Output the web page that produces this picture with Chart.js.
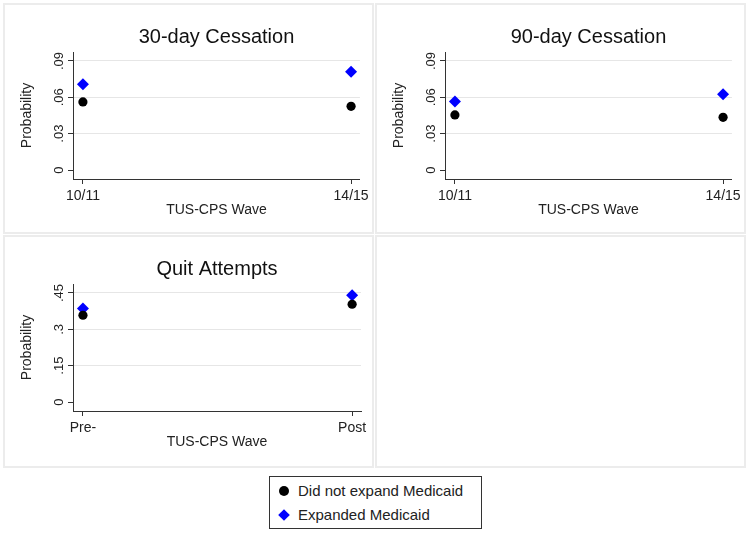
<!DOCTYPE html>
<html><head><meta charset="utf-8">
<script src="https://cdn.jsdelivr.net/npm/chart.js@4"></script>
<style>
body{margin:0;background:#fff;width:750px;height:533px;position:relative;overflow:hidden;font-family:Arial,"Liberation Sans",sans-serif;}
.panel{position:absolute;box-sizing:border-box;border:2px solid #ececec;pointer-events:none;}
.cw{position:absolute;width:369px;height:229px;}
#legend{position:absolute;left:269px;top:476px;width:213px;height:53px;box-sizing:border-box;border:1px solid #333;background:#fff;}
.li{position:absolute;left:0;height:20px;line-height:20px;font-size:15px;color:#222;white-space:nowrap;}
.li span.t{position:absolute;left:28px;top:0;}
.mk{position:absolute;left:9px;top:5px;width:10px;height:10px;}
.mk.c{background:#000;border-radius:50%;}
.mk.d{background:#0000ff;transform:rotate(45deg) scale(0.82);}
</style>
</head><body>
<div class="cw" style="left:4px;top:4px"><canvas id="c1"></canvas></div>
<div class="cw" style="left:376px;top:4px"><canvas id="c2"></canvas></div>
<div class="cw" style="left:4px;top:236px"><canvas id="c3"></canvas></div>
<div class="panel" style="left:3px;top:3px;width:371px;height:231px"></div>
<div class="panel" style="left:375px;top:3px;width:371px;height:231px"></div>
<div class="panel" style="left:3px;top:235px;width:371px;height:233px"></div>
<div class="panel" style="left:375px;top:235px;width:371px;height:233px"></div>
<div id="legend"></div>
<script>
// ---- data ----
const seriesNames = ['Did not expand Medicaid', 'Expanded Medicaid'];
const seriesColors = ['#000000', '#0000ff'];
const waveLabels = ['10/11', '14/15'];
const quitLabels = ['Pre-', 'Post'];
const panelTitles = ['30-day Cessation', '90-day Cessation', 'Quit Attempts'];
const cess30NoExpand = [0.0562, 0.0526];
const cess30Expand   = [0.0708, 0.0812];
const cess90NoExpand = [0.0455, 0.0435];
const cess90Expand   = [0.0565, 0.0625];
const quitNoExpand   = [0.358, 0.4035];
const quitExpand     = [0.3855, 0.441];
const cessTicks = [0, 0.03, 0.06, 0.09];
const cessTickLabels = ['0', '.03', '.06', '.09'];
const quitTicks = [0, 0.15, 0.3, 0.45];
const quitTickLabels = ['0', '.15', '.3', '.45'];

function pts(vals){ return vals.map((v,i)=>({x:i, y:v})); }

function makeChart(id, title, xLabels, noExp, exp, yTicks, yTickLabels, yMin, yMax){
  const axisColor = '#333';
  return new Chart(document.getElementById(id), {
    type: 'scatter',
    data: {
      datasets: [
        {label: seriesNames[0], data: pts(noExp), pointStyle: 'circle', pointRadius: 4.6,
         backgroundColor: seriesColors[0], borderColor: seriesColors[0], borderWidth: 0},
        {label: seriesNames[1], data: pts(exp), pointStyle: 'rectRot', pointRadius: 6,
         backgroundColor: seriesColors[1], borderColor: seriesColors[1], borderWidth: 0}
      ]
    },
    options: {
      responsive: true, maintainAspectRatio: false, animation: false,
      layout: {padding: {left: 0, right: 12, top: 0, bottom: 0}},
      plugins: {
        legend: {display: false}, tooltip: {enabled: false},
        title: {display: true, text: title, fullSize: false, color: '#111',
                font: {family: 'Arial, "Liberation Sans", sans-serif', size: 20, weight: 'normal'},
                padding: {top: 21, bottom: 3}}
      },
      scales: {
        x: {
          type: 'linear', min: -0.037, max: 1.033,
          afterBuildTicks: s => { s.ticks = xLabels.map((l,i)=>({value:i})); },
          afterFit: s => { s.height = 54; },
          ticks: {callback: v => xLabels[v], color: '#222', padding: 4, maxRotation: 0,
                  font: {family: 'Arial, "Liberation Sans", sans-serif', size: 14}},
          grid: {drawOnChartArea: false, drawTicks: true, tickLength: 5, tickColor: axisColor},
          border: {display: true, color: axisColor, width: 1},
          title: {display: true, text: 'TUS-CPS Wave', color: '#222',
                  font: {family: 'Arial, "Liberation Sans", sans-serif', size: 14},
                  padding: {top: 0, bottom: 14}}
        },
        y: {
          type: 'linear', min: yMin, max: yMax,
          afterBuildTicks: s => { s.ticks = yTicks.map(v=>({value:v})); },
          afterFit: s => { s.width = 69; },
          ticks: {callback: (v) => yTickLabels[yTicks.indexOf(v)], color: '#222', padding: 0,
                  minRotation: 90, maxRotation: 90, crossAlign: 'center',
                  font: {family: 'Arial, "Liberation Sans", sans-serif', size: 13}},
          grid: {drawOnChartArea: true, drawTicks: true, tickLength: 5, tickColor: axisColor,
                 color: c => (c.tick && c.tick.value === 0) ? 'rgba(0,0,0,0)' : '#e6e6e6', lineWidth: 1},
          border: {display: true, color: axisColor, width: 1},
          title: {display: true, text: 'Probability', color: '#222',
                  font: {family: 'Arial, "Liberation Sans", sans-serif', size: 14},
                  padding: {top: 14.6, bottom: 0}}
        }
      }
    }
  });
}

makeChart('c1', panelTitles[0], waveLabels, cess30NoExpand, cess30Expand, cessTicks, cessTickLabels, -0.0074, 0.0974);
makeChart('c2', panelTitles[1], waveLabels, cess90NoExpand, cess90Expand, cessTicks, cessTickLabels, -0.0074, 0.0974);
makeChart('c3', panelTitles[2], quitLabels, quitNoExpand, quitExpand, quitTicks, quitTickLabels, -0.037, 0.487);

// legend
const lg = document.getElementById('legend');
seriesNames.forEach((n,i)=>{
  const d = document.createElement('div');
  d.className = 'li';
  d.style.top = (i===0 ? 4 : 28) + 'px';
  d.innerHTML = '<div class="mk ' + (i===0?'c':'d') + '"></div><span class="t"></span>';
  d.querySelector('.t').textContent = n;
  lg.appendChild(d);
});
</script>
</body></html>
